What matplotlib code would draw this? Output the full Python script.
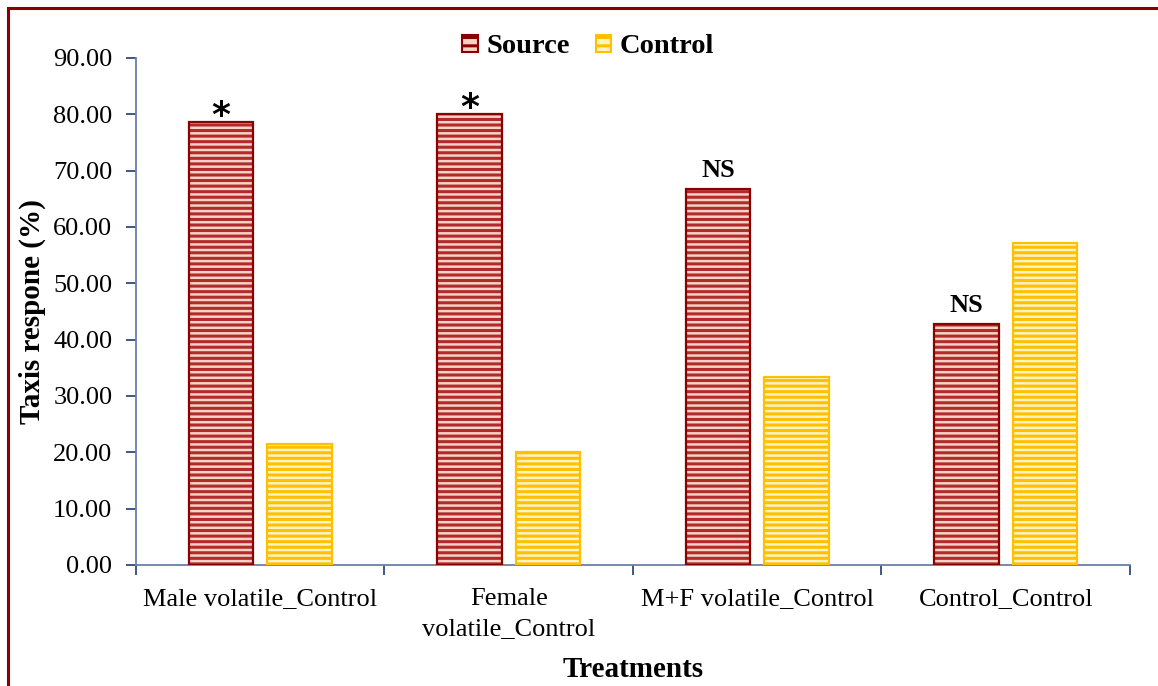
import matplotlib
matplotlib.use("Agg")
import matplotlib.pyplot as plt
import numpy as np
from matplotlib.patches import Patch
from matplotlib.lines import Line2D

categories = ["Male volatile_Control", "Female\nvolatile_Control",
              "M+F volatile_Control", "Control_Control"]
source = [78.57, 80.00, 66.67, 42.86]
control = [21.43, 20.00, 33.33, 57.14]
marks = ["*", "*", "NS", "NS"]
yticks = [0, 10, 20, 30, 40, 50, 60, 70, 80, 90]

plt.rcParams["font.family"] = ["Liberation Serif", "DejaVu Serif"]
plt.rcParams["hatch.linewidth"] = 2.2

fig = plt.figure(figsize=(11.58, 6.86), dpi=100)
ax = fig.add_axes([0.1174, 0.1764, 0.8584, 0.7391])

x = np.arange(len(categories))
w = 0.26
off = 0.158

src_face, src_stripe, src_edge = "#f5d3c6", "#b22a2a", "#8b0000"
ctl_face, ctl_stripe, ctl_edge = "#fff3c4", "#ffc000", "#ffc000"

def striped(xpos, vals, face, stripe, edge):
    ax.bar(xpos, vals, w, color=face, edgecolor=stripe, hatch="---",
           linewidth=0, zorder=2)
    ax.bar(xpos, vals, w, fill=False, edgecolor=edge, linewidth=1.6, zorder=3)

striped(x - off, source, src_face, src_stripe, src_edge)
striped(x + off, control, ctl_face, ctl_stripe, ctl_edge)

for xi, v, m in zip(x - off, source, marks):
    if m == "*":
        ax.annotate(m, (xi, v), xytext=(0, -7.5), textcoords="offset points",
                    ha="center", va="bottom", fontsize=26, fontweight="bold",
                    family=["DejaVu Sans"])
    else:
        ax.annotate(m, (xi, v), xytext=(0, 5), textcoords="offset points",
                    ha="center", va="bottom", fontsize=19, fontweight="bold")

ax.set_xlim(-0.5, len(categories) - 0.5)
ax.set_ylim(0, 90)
ax.set_yticks(yticks)
ax.set_yticklabels([f"{t:.2f}" for t in yticks])
ax.set_xticks(x)
ax.set_xticklabels(categories, linespacing=1.45)
ax.set_xticks(np.arange(len(categories) + 1) - 0.5, minor=True)

axis_col = "#6a7fa8"
tick_col = "#1f3a70"
for s in ("top", "right"):
    ax.spines[s].set_visible(False)
for s in ("left", "bottom"):
    ax.spines[s].set_color(axis_col)
    ax.spines[s].set_linewidth(1.3)

ax.tick_params(axis="y", direction="out", length=7, width=1.2, color=tick_col,
               labelsize=19, pad=10)
ax.tick_params(axis="x", which="major", length=0, labelsize=19, pad=16.5)
ax.tick_params(axis="x", which="minor", direction="out", length=7, width=1.2,
               color=tick_col)

ax.set_ylabel("Taxis respone (%)", fontsize=21, fontweight="bold")
ax.yaxis.set_label_coords(-0.09, 0.5)
ax.set_xlabel("Treatments", fontsize=21, fontweight="bold")
ax.xaxis.set_label_coords(0.5, -0.18)

handles = [Patch(facecolor=src_face, edgecolor=src_edge, hatch="--", linewidth=1.5),
           Patch(facecolor=ctl_face, edgecolor=ctl_edge, hatch="--", linewidth=1.5)]
ax.legend(handles, ["Source", "Control"], loc="center", bbox_to_anchor=(0.455, 1.022),
          ncol=2, frameon=False, prop={"size": 20.5, "weight": "bold"},
          handlelength=0.55, handleheight=0.55, handletextpad=0.3,
          columnspacing=0.9, borderpad=0.1)

# chart frame (top and left edges)
W, H = fig.get_size_inches() * fig.dpi
fig.add_artist(Line2D([8 / W, 8 / W], [0, 1 - 8 / H], transform=fig.transFigure,
                      color="#8b0000", linewidth=2.2))
fig.add_artist(Line2D([8 / W, 1], [1 - 8 / H, 1 - 8 / H], transform=fig.transFigure,
                      color="#8b0000", linewidth=2.2))

fig.savefig("out.png", dpi=100, facecolor="white")
